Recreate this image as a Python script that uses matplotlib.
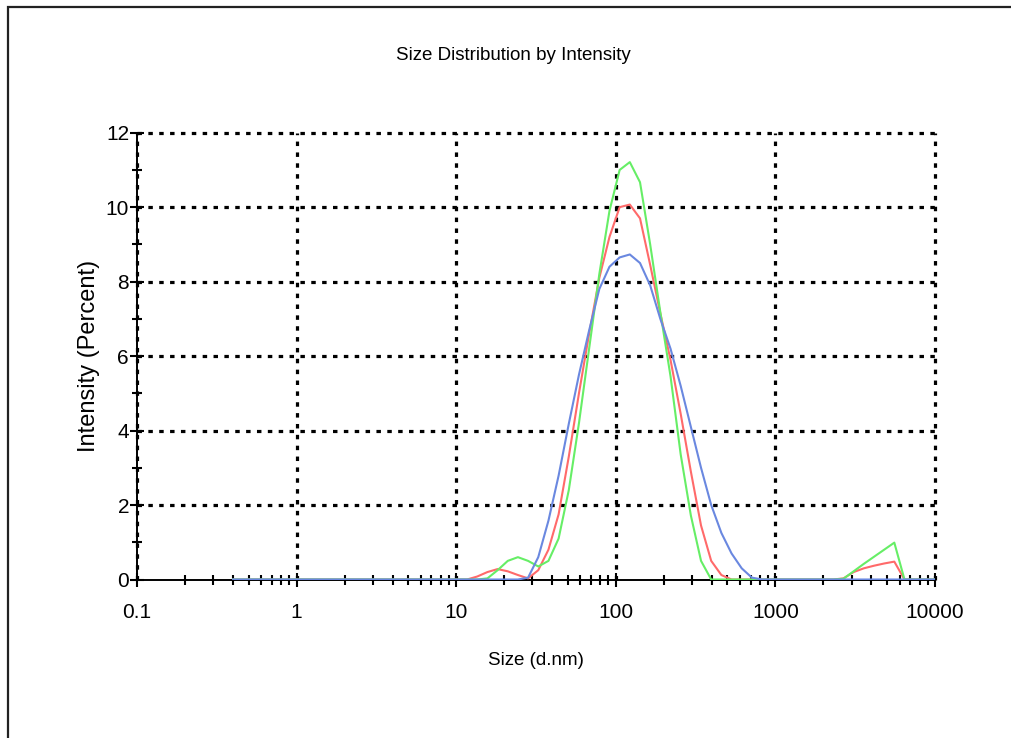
import numpy as np
import matplotlib
matplotlib.use("Agg")
import matplotlib.pyplot as plt
from matplotlib.ticker import LogLocator, NullFormatter, MultipleLocator
from matplotlib.patches import Rectangle

# size bins (d.nm)
sizes = [0.4, 11.70, 13.54, 15.69, 18.17, 21.04, 24.36, 28.21, 32.67, 37.84,
         43.82, 50.75, 58.77, 68.06, 78.82, 91.28, 105.7, 122.4, 141.8, 164.2,
         190.1, 220.2, 255.0, 295.3, 342.0, 396.1, 458.7, 531.2, 615.1, 712.4,
         825.0, 2305, 2669, 3091, 3580, 4145, 4801, 5560, 6439, 10000]

# intensity (percent) for each record
red = [0, 0, 0.08, 0.2, 0.28, 0.22, 0.12, 0.03, 0.25, 0.8,
       1.75, 3.3, 5.0, 6.6, 8.1, 9.2, 10.0, 10.07, 9.7, 8.45,
       7.15, 5.9, 4.45, 2.9, 1.45, 0.5, 0.12, 0, 0, 0,
       0, 0, 0.03, 0.2, 0.3, 0.37, 0.43, 0.48, 0, 0]
green = [0, 0, 0, 0.03, 0.25, 0.5, 0.6, 0.5, 0.35, 0.5,
         1.1, 2.4, 4.2, 6.2, 8.2, 9.9, 11.0, 11.21, 10.67, 9.0,
         7.18, 5.46, 3.36, 1.72, 0.5, 0, 0, 0, 0, 0,
         0, 0, 0.02, 0.22, 0.42, 0.61, 0.8, 0.99, 0, 0]
blue = [0, 0, 0, 0, 0, 0, 0, 0.05, 0.6, 1.58,
        2.79, 4.18, 5.5, 6.69, 7.8, 8.4, 8.65, 8.73, 8.5, 7.9,
        7.0, 6.2, 5.2, 4.1, 3.0, 2.0, 1.25, 0.7, 0.3, 0.05,
        0, 0, 0, 0, 0, 0, 0, 0, 0, 0]

xticks = [0.1, 1, 10, 100, 1000, 10000]
xtick_labels = ["0.1", "1", "10", "100", "1000", "10000"]
yticks = [0, 2, 4, 6, 8, 10, 12]

W, H = 1011, 738


def main():
	plt.rcParams['font.family'] = ['Liberation Sans', 'DejaVu Sans']
	fig = plt.figure(figsize=(W / 100, H / 100), dpi=100)
	fig.patch.set_facecolor('white')

	# frame around the report panel (runs off right/bottom)
	fig.patches.append(Rectangle((8 / W, -0.1), 1.2, (H - 7) / H + 0.1,
		transform=fig.transFigure, fill=False, edgecolor='#222222', linewidth=1.6))

	ax = fig.add_axes([137 / W, (H - 579.5) / H, (935 - 137) / W, (579.5 - 132.7) / H])

	# records drawn over grid and baseline, blue last
	ax.plot(sizes, red, color='#ff6a6a', linewidth=1.5, zorder=3)
	ax.plot(sizes, green, color='#66ee66', linewidth=1.5, zorder=3)
	ax.plot(sizes, blue, color='#6a88e0', linewidth=1.5, zorder=3)

	ax.set_xscale('log')
	ax.set_xlim(0.1, 10000)
	ax.set_ylim(0, 12)

	ax.spines['top'].set_visible(False)
	ax.spines['right'].set_visible(False)
	for s in ['left', 'bottom']:
		ax.spines[s].set_linewidth(1.4)
		ax.spines[s].set_zorder(1)

	ax.set_axisbelow(False)
	ax.grid(True, which='major', color='black', linestyle=(0, (1.4, 2.0)), linewidth=2.3)
	ax.yaxis.get_gridlines()[0].set_visible(False)

	ax.set_xticks(xticks)
	ax.set_xticklabels(xtick_labels)
	ax.xaxis.set_minor_locator(LogLocator(base=10, subs=np.arange(2, 10), numticks=50))
	ax.xaxis.set_minor_formatter(NullFormatter())
	ax.set_yticks(yticks)
	ax.yaxis.set_minor_locator(MultipleLocator(1))

	ax.tick_params(axis='both', which='major', direction='inout', length=9.5, width=1.5,
		labelsize=15)
	ax.tick_params(axis='both', which='minor', direction='inout', length=6.5, width=1.5)
	ax.tick_params(axis='x', which='major', pad=12)
	ax.tick_params(axis='y', which='major', pad=1)

	# keep the grid lines on the top/right edges whole
	for gl in ax.xaxis.get_gridlines() + ax.yaxis.get_gridlines():
		gl.set_clip_on(False)

	ax.set_xlabel('Size (d.nm)', fontsize=13.5)
	ax.xaxis.set_label_coords(0.5, -0.162)
	ax.set_ylabel('Intensity (Percent)', fontsize=17)
	ax.yaxis.set_label_coords(-0.046, 0.5)

	fig.text(513 / W, 1 - 55 / H, 'Size Distribution by Intensity', ha='center', va='center',
		fontsize=13.5)

	fig.savefig('out.png', dpi=100)


if __name__ == "__main__":
	main()
